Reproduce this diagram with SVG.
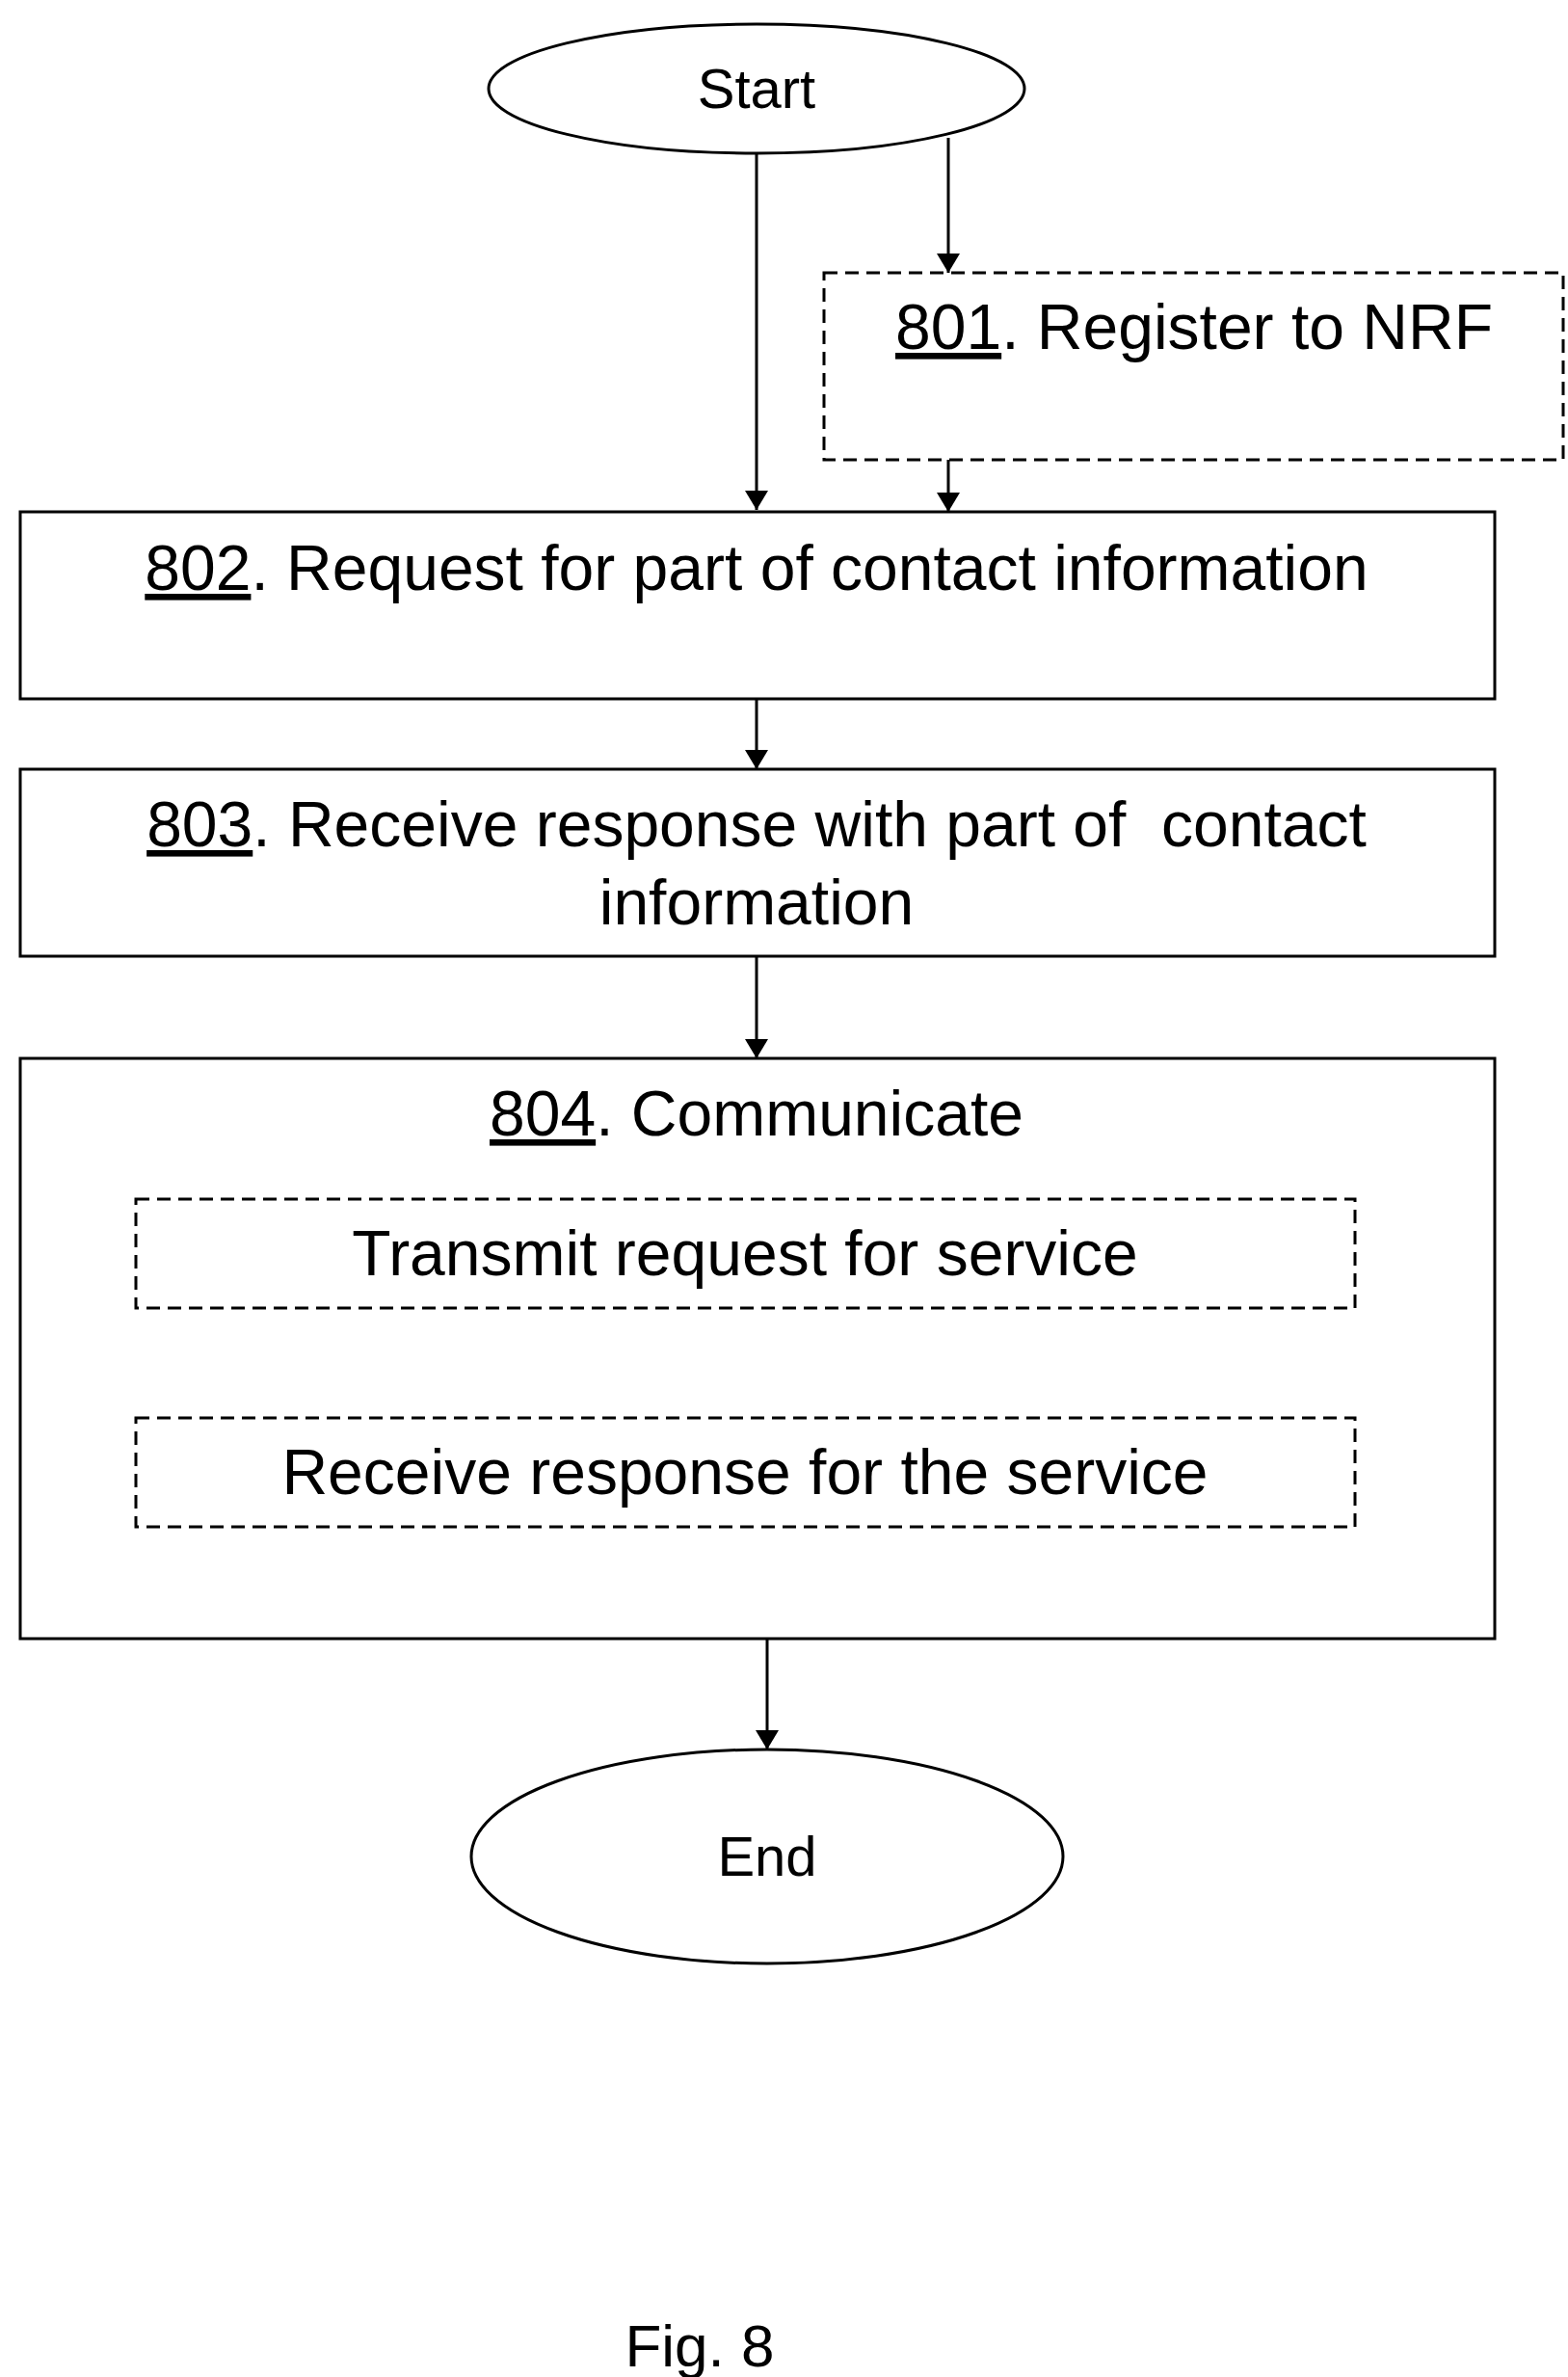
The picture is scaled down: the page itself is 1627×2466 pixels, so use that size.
<svg xmlns="http://www.w3.org/2000/svg" width="1627" height="2466" viewBox="0 0 1627 2466">
<defs>
<marker id="ah" markerWidth="20" markerHeight="24" refX="20" refY="12" orient="auto" markerUnits="userSpaceOnUse" viewBox="0 0 20 24"><path d="M0,0 L20,12 L0,24 z" fill="#000"/></marker>
<style>
.s{fill:#fff;stroke:#000;stroke-width:3}
.d{fill:#fff;stroke:#000;stroke-width:3;stroke-dasharray:14,8}
.t{font-family:"Liberation Sans",Arial,sans-serif;font-size:66px;text-anchor:middle;fill:#000}
.c{stroke:#000;stroke-width:3;fill:none;marker-end:url(#ah)}
</style>
</defs>
<rect width="1627" height="2466" fill="#fff"/>
<g id="connectors">
<line class="c" x1="785" y1="159" x2="785" y2="529"/>
<line class="c" x1="984" y1="143" x2="984" y2="283"/>
<line class="c" x1="984" y1="477" x2="984" y2="531"/>
<line class="c" x1="785" y1="725" x2="785" y2="798"/>
<line class="c" x1="785" y1="992" x2="785" y2="1098"/>
<line class="c" x1="796" y1="1700" x2="796" y2="1815"/>
</g>
<g id="start"><ellipse class="s" cx="785" cy="92" rx="278" ry="67"/><text class="t" x="785" y="112" style="font-size:58px">Start</text></g>
<g id="n801"><rect class="d" x="855" y="283" width="767" height="194"/><text class="t" x="1239" y="362"><tspan text-decoration="underline">801</tspan>. Register to NRF</text></g>
<g id="n802"><rect class="s" x="21" y="531" width="1530" height="194"/><text class="t" x="785" y="612"><tspan text-decoration="underline">802</tspan>. Request for part of contact information</text></g>
<g id="n803"><rect class="s" x="21" y="798" width="1530" height="194"/><text class="t" x="785" y="878" xml:space="preserve"><tspan text-decoration="underline">803</tspan>. Receive response with part of  contact</text><text class="t" x="785" y="959">information</text></g>
<g id="n804"><rect class="s" x="21" y="1098" width="1530" height="602"/><text class="t" x="785" y="1178"><tspan text-decoration="underline">804</tspan>. Communicate</text></g>
<g id="n804a"><rect class="d" x="141" y="1244" width="1265" height="113"/><text class="t" x="773" y="1323">Transmit request for service</text></g>
<g id="n804b"><rect class="d" x="141" y="1471" width="1265" height="113"/><text class="t" x="773" y="1550">Receive response for the service</text></g>
<g id="end"><ellipse class="s" cx="796" cy="1926" rx="307" ry="111"/><text class="t" x="796" y="1946" style="font-size:58px">End</text></g>
<text class="t" x="726" y="2455" style="font-size:62px">Fig. 8</text>
</svg>
